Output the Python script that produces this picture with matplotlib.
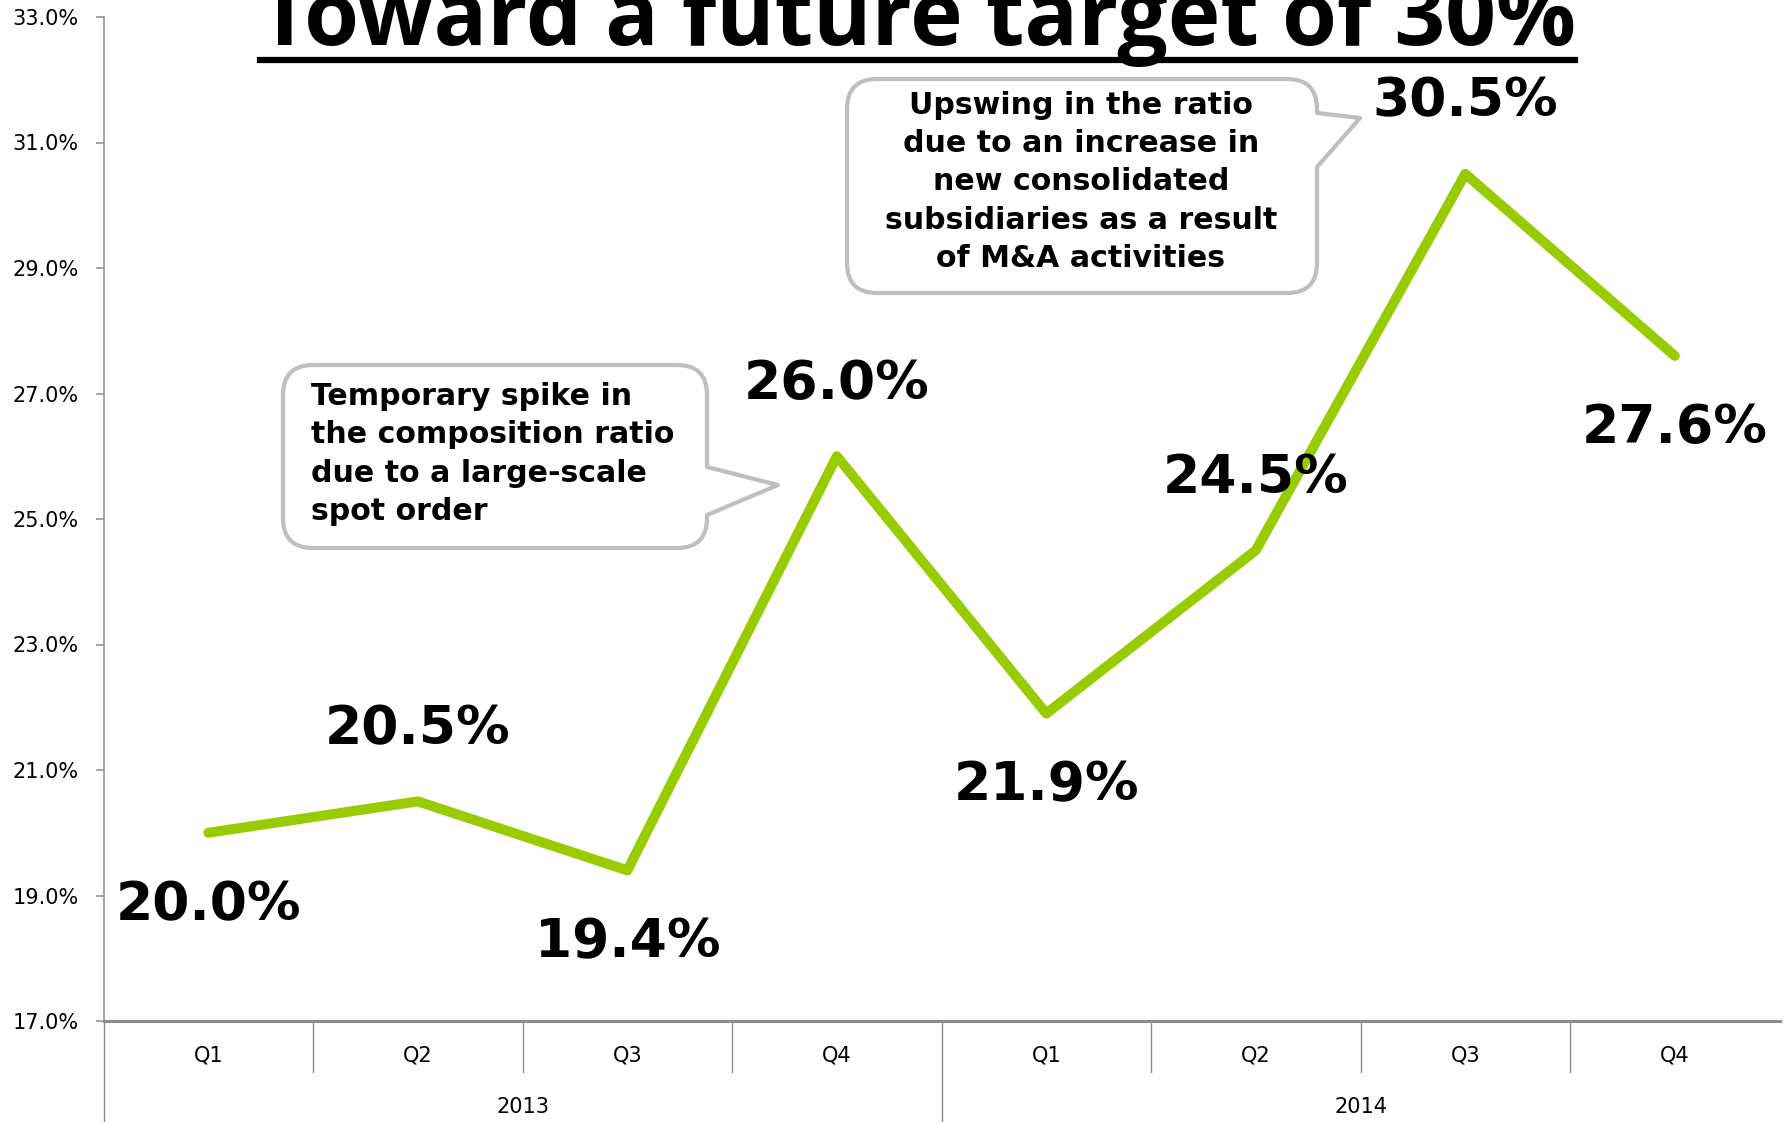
import numpy as np
import matplotlib.pyplot as plt
from matplotlib.path import Path
from matplotlib.patches import PathPatch
from matplotlib.lines import Line2D

# quarterly composition ratio (%)
quarters = ["Q1", "Q2", "Q3", "Q4", "Q1", "Q2", "Q3", "Q4"]
years = ["2013", "2014"]
ratio = [20.0, 20.5, 19.4, 26.0, 21.9, 24.5, 30.5, 27.6]
label_side = [-1, 1, -1, 1, -1, 1, 1, -1]        # +1 label above the point, -1 below
y_ticks = [17, 19, 21, 23, 25, 27, 29, 31, 33]

title = "Toward a future target of 30%"
note_left = "Temporary spike in\nthe composition ratio\ndue to a large-scale\nspot order"
note_right = ("Upswing in the ratio\ndue to an increase in\nnew consolidated\n"
              "subsidiaries as a result\nof M&A activities")

W, H = 1785, 1122
LINE_GREEN = "#99CC00"
AXIS_GRAY = "#8C8C8C"
BOX_GRAY = "#BFBFBF"

fig = plt.figure(figsize=(W / 100, H / 100), dpi=100)
ax = fig.add_axes([103.6 / W, 1 - 1021 / H, (1779.5 - 103.6) / W, (1021 - 17) / H])

x = np.arange(len(ratio))
ax.plot(x, ratio, color=LINE_GREEN, lw=7.2, solid_joinstyle="round",
        solid_capstyle="round", zorder=3)

for xi, v, side in zip(x, ratio, label_side):
    ax.annotate(f"{v:.1f}%", (xi, v), xytext=(0, 52 * side), textcoords="offset points",
                ha="center", va="center", fontsize=38.5, fontweight="bold",
                family="DejaVu Sans", zorder=4)

ax.set_xlim(-0.5, len(ratio) - 0.5)
ax.set_ylim(y_ticks[0], y_ticks[-1])
ax.set_yticks(y_ticks)
ax.set_yticklabels([f"{t:.1f}%" for t in y_ticks], fontsize=15)
ax.tick_params(axis="y", length=6, width=1.1, color=AXIS_GRAY, pad=12)
ax.set_xticks([])
for s in ("top", "right"):
    ax.spines[s].set_visible(False)
ax.spines["left"].set_color(AXIS_GRAY)
ax.spines["left"].set_linewidth(1.1)
ax.spines["bottom"].set_color(AXIS_GRAY)
ax.spines["bottom"].set_linewidth(2.2)

# two-level category axis: quarters then years
xt = ax.get_xaxis_transform()
for xi, q in zip(x, quarters):
    ax.text(xi, -0.034, q, transform=xt, ha="center", va="center", fontsize=15)
for k, yr in enumerate(years):
    ax.text(4 * k + 1.5, -0.086, yr, transform=xt, ha="center", va="center", fontsize=15)
for b in np.arange(-0.5, len(ratio), 1.0):
    if b == -0.5 or b == 3.5:
        y_end = -0.101
    elif b == len(ratio) - 0.5:
        continue
    else:
        y_end = -0.051
    ax.plot([b, b], [0, y_end], transform=xt, color=AXIS_GRAY, lw=1.0, clip_on=False)

# title with underline, partly running off the top edge
fig.text(917.5 / W, 1 - 45 / H, title, ha="center", va="baseline",
         fontsize=64, fontweight="bold", family="Open Sans")
fig.add_artist(Line2D([260 / W, 1575 / W], [1 - 60 / H, 1 - 60 / H],
                      transform=fig.transFigure, color="black", lw=4.5))


def callout(x0, y0, x1, y1, tail, r=30):
    """Rounded box with a speech tail on its right side, in pixel coordinates."""
    ta, tip, tb = tail
    pts = [
        ((x0 + r, y0), Path.MOVETO),
        ((x1 - r, y0), Path.LINETO),
        ((x1, y0), Path.CURVE3), ((x1, y0 + r), Path.CURVE3),
        ((x1, ta), Path.LINETO),
        (tip, Path.LINETO),
        ((x1, tb), Path.LINETO),
        ((x1, y1 - r), Path.LINETO),
        ((x1, y1), Path.CURVE3), ((x1 - r, y1), Path.CURVE3),
        ((x0 + r, y1), Path.LINETO),
        ((x0, y1), Path.CURVE3), ((x0, y1 - r), Path.CURVE3),
        ((x0, y0 + r), Path.LINETO),
        ((x0, y0), Path.CURVE3), ((x0 + r, y0), Path.CURVE3),
        ((x0 + r, y0), Path.CLOSEPOLY),
    ]
    verts = [(px / W, 1 - py / H) for (px, py), _ in pts]
    codes = [c for _, c in pts]
    patch = PathPatch(Path(verts, codes), transform=fig.transFigure, facecolor="white",
                      edgecolor=BOX_GRAY, lw=3, joinstyle="round", zorder=5)
    fig.add_artist(patch)


callout(283, 365, 707, 548, (467, (778, 485), 515))
fig.text(311 / W, 1 - 454 / H, note_left, ha="left", va="center", fontsize=21.6,
         fontweight="bold", family="DejaVu Sans", linespacing=1.4, zorder=6)

callout(847, 79, 1317, 293, (113, (1360, 118), 167))
fig.text(1081 / W, 1 - 182 / H, note_right, ha="center", va="center", fontsize=21.6,
         fontweight="bold", family="DejaVu Sans", linespacing=1.4, zorder=6)

fig.savefig("out.png", dpi=100)
